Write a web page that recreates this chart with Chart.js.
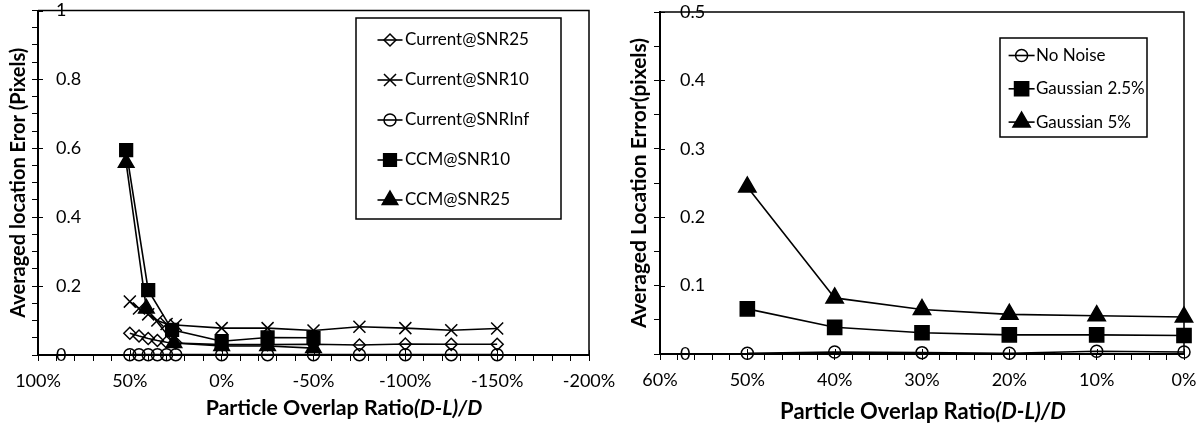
<!DOCTYPE html>
<html>
<head>
<meta charset="utf-8">
<script src="https://cdn.jsdelivr.net/npm/chart.js@4.4.0/dist/chart.umd.min.js"></script>
<style>
  html, body { margin: 0; padding: 0; background: #fff; }
  #wrap { position: relative; width: 1201px; height: 429px; overflow: hidden; }
  .pane { position: absolute; top: 0; }
</style>
</head>
<body>
<div id="wrap">
  <div class="pane" style="left:0;width:620px;height:429px"><canvas id="leftChart" width="620" height="429"></canvas></div>
  <div class="pane" style="left:600px;width:601px;height:429px"><canvas id="rightChart" width="601" height="429"></canvas></div>
</div>
<script>
// ---- Left chart data: overlap ratio (%) vs averaged location error (pixels)
const overlapCurrent = [50, 45, 40, 35, 30, 25, 0, -25, -50, -75, -100, -125, -150];
const currentSnr25 = [0.063, 0.055, 0.048, 0.042, 0.037, 0.035, 0.030, 0.030, 0.031, 0.029, 0.032, 0.031, 0.031];
const currentSnr10 = [0.155, 0.135, 0.118, 0.100, 0.090, 0.087, 0.078, 0.078, 0.071, 0.082, 0.078, 0.072, 0.077];
const currentSnrInf = [0.001, 0.001, 0.001, 0.001, 0.001, 0.001, 0.001, 0.001, 0.001, 0.001, 0.001, 0.001, 0.001];
const overlapCcm10 = [52, 40, 27, 0, -25, -50];
const ccmSnr10 = [0.595, 0.188, 0.073, 0.040, 0.051, 0.050];
const overlapCcm25 = [52, 41, 26, 0, -25, -50];
const ccmSnr25 = [0.558, 0.135, 0.035, 0.026, 0.026, 0.020];

// left axis labels
const leftXLabels = [100, 50, 0, -50, -100, -150, -200];
const leftYLabels = [0, 0.2, 0.4, 0.6, 0.8, 1];

// ---- Right chart data
const overlapRight = [50, 40, 30, 20, 10, 0];
const noNoise = [0.001, 0.003, 0.002, 0.001, 0.004, 0.003];
const gaussian25 = [0.066, 0.039, 0.031, 0.028, 0.028, 0.027];
const gaussian5 = [0.244, 0.082, 0.065, 0.058, 0.056, 0.054];

const rightXLabels = [60, 50, 40, 30, 20, 10, 0];
const rightYLabels = [0, 0.1, 0.2, 0.3, 0.4, 0.5];

const FONT = 'Lato';

function toPoints(xs, ys) {
    return xs.map((x, i) => ({ x: x, y: ys[i] }));
}

// tick positions: majors plus evenly spaced minors between them
function tickValues(from, to, step) {
    const vals = [];
    const n = Math.round(Math.abs(to - from) / step);
    const dir = to > from ? 1 : -1;
    for (let i = 0; i <= n; i++) {
        vals.push(+(from + dir * i * step).toFixed(4));
    }
    return vals;
}

function matchLabel(v, labels) {
    return labels.find(l => Math.abs(l - v) < 1e-6);
}

function lineDataset(label, points, style, radius, filled) {
    return {
        label: label,
        data: points,
        showLine: true,
        borderColor: '#000',
        borderWidth: 1.6,
        pointStyle: style,
        pointRadius: radius,
        pointHoverRadius: radius,
        pointBorderColor: '#000',
        pointBorderWidth: 1.5,
        pointBackgroundColor: filled ? '#000' : 'rgba(0,0,0,0)',
        clip: false
    };
}

/**
 * Frame: top/right border plus the inner half of major ticks
 */
const framePlugin = {
    id: 'frame',
    beforeDatasetsDraw(chart, args, opts) {
        const { ctx, chartArea: a, scales } = chart;
        ctx.save();
        ctx.strokeStyle = '#000';
        ctx.lineWidth = 1.5;
        ctx.beginPath();
        ctx.moveTo(a.left, a.top);
        ctx.lineTo(a.right, a.top);
        ctx.lineTo(a.right, a.bottom);
        ctx.stroke();
        ctx.lineWidth = 1;
        ctx.beginPath();
        opts.xMajor.forEach(v => {
            const px = Math.round(scales.x.getPixelForValue(v)) + 0.5;
            ctx.moveTo(px, a.bottom);
            ctx.lineTo(px, a.bottom - 5);
        });
        opts.yMajor.forEach(v => {
            const py = Math.round(scales.y.getPixelForValue(v)) + 0.5;
            ctx.moveTo(a.left, py);
            ctx.lineTo(a.left + 5, py);
        });
        ctx.stroke();
        ctx.restore();
    }
};

/**
 * Boxed legend inside the plot
 */
const boxLegendPlugin = {
    id: 'boxLegend',
    afterDraw(chart, args, opts) {
        const ctx = chart.ctx;
        ctx.save();
        ctx.strokeStyle = '#000';
        ctx.lineWidth = 1.5;
        ctx.fillStyle = '#fff';
        ctx.fillRect(opts.x, opts.y, opts.w, opts.h);
        ctx.strokeRect(opts.x, opts.y, opts.w, opts.h);
        ctx.font = opts.fontSize + 'px ' + FONT;
        ctx.textBaseline = 'middle';
        ctx.textAlign = 'left';
        chart.data.datasets.forEach((ds, i) => {
            const cy = opts.rowY + i * opts.rowGap;
            ctx.strokeStyle = '#000';
            ctx.lineWidth = 1.6;
            ctx.beginPath();
            ctx.moveTo(opts.markerX - opts.half, cy);
            ctx.lineTo(opts.markerX + opts.half, cy);
            ctx.stroke();
            ctx.fillStyle = ds.pointBackgroundColor;
            ctx.lineWidth = ds.pointBorderWidth;
            Chart.helpers.drawPoint(ctx, {
                pointStyle: ds.pointStyle,
                radius: ds.pointRadius,
                rotation: 0,
                borderWidth: ds.pointBorderWidth
            }, opts.markerX, cy);
            ctx.fillStyle = '#000';
            ctx.fillText(ds.label, opts.textX, cy);
        });
        ctx.restore();
    }
};

/**
 * X axis title with the italic ratio part
 */
const xTitlePlugin = {
    id: 'xTitle',
    afterDraw(chart, args, opts) {
        const ctx = chart.ctx;
        ctx.save();
        ctx.fillStyle = '#000';
        ctx.textBaseline = 'middle';
        ctx.textAlign = 'left';
        const plainFont = 'bold ' + opts.size + 'px ' + FONT;
        const italicFont = 'italic bold ' + opts.size + 'px ' + FONT;
        ctx.font = plainFont;
        const w1 = ctx.measureText(opts.plain).width;
        ctx.font = italicFont;
        const w2 = ctx.measureText(opts.italic).width;
        const x0 = opts.cx - (w1 + w2) / 2;
        ctx.font = plainFont;
        ctx.fillText(opts.plain, x0, opts.cy);
        ctx.font = italicFont;
        ctx.fillText(opts.italic, x0 + w1, opts.cy);
        ctx.restore();
    }
};

function axisOptions(cfg) {
    const tickFont = { family: FONT, size: 18 };
    return {
        x: {
            type: 'linear',
            min: cfg.xMin,
            max: cfg.xMax,
            reverse: true,
            afterBuildTicks: s => { s.ticks = cfg.xTicks.map(v => ({ value: v })); },
            afterFit: s => { s.paddingLeft = 0; s.paddingRight = 0; s.height = cfg.xHeight; },
            ticks: {
                autoSkip: false,
                maxRotation: 0,
                padding: 9,
                color: '#000',
                font: tickFont,
                callback: v => {
                    const m = matchLabel(v, cfg.xLabels);
                    return m === undefined ? '' : m + '%';
                }
            },
            grid: { drawOnChartArea: false, drawTicks: true, tickLength: 6, color: '#000', lineWidth: 1 },
            border: { color: '#000', width: 2 }
        },
        y: {
            type: 'linear',
            min: 0,
            max: cfg.yMax,
            afterBuildTicks: s => { s.ticks = cfg.yTicks.map(v => ({ value: v })); },
            afterFit: s => { s.paddingTop = 0; s.paddingBottom = 0; s.width = cfg.yWidth; },
            ticks: {
                autoSkip: false,
                mirror: true,
                padding: cfg.yLabelPad,
                color: '#000',
                font: tickFont,
                callback: v => {
                    const m = matchLabel(v, cfg.yLabels);
                    return m === undefined ? '' : String(m);
                }
            },
            grid: { drawOnChartArea: false, drawTicks: true, tickLength: 6, color: '#000', lineWidth: 1 },
            border: { color: '#000', width: 2 },
            title: {
                display: true,
                text: cfg.yTitle,
                color: '#000',
                font: { family: FONT, size: cfg.yTitleSize, weight: 'bold' },
                padding: { top: cfg.yTitlePadTop, bottom: 2 }
            }
        }
    };
}

function createLeftChart() {
    const ctx = document.getElementById('leftChart');
    new Chart(ctx, {
        type: 'scatter',
        data: {
            datasets: [
                lineDataset('Current@SNR25', toPoints(overlapCurrent, currentSnr25), 'rectRot', 6, false),
                lineDataset('Current@SNR10', toPoints(overlapCurrent, currentSnr10), 'crossRot', 8.5, false),
                lineDataset('Current@SNRInf', toPoints(overlapCurrent, currentSnrInf), 'circle', 6, false),
                lineDataset('CCM@SNR10', toPoints(overlapCcm10, ccmSnr10), 'rect', 9, true),
                lineDataset('CCM@SNR25', toPoints(overlapCcm25, ccmSnr25), 'triangle', 9, true)
            ]
        },
        options: {
            responsive: false,
            animation: false,
            layout: { padding: { left: 0, right: 31, top: 10, bottom: 37.4 } },
            scales: axisOptions({
                xMin: -200, xMax: 100,
                xTicks: tickValues(100, -200, 10),
                xLabels: leftXLabels,
                xHeight: 36.6,
                yMax: 1,
                yTicks: tickValues(0, 1, 0.05),
                yLabels: leftYLabels,
                yWidth: 38,
                yLabelPad: 18,
                yTitle: 'Averaged location Eror (Pixels)',
                yTitleSize: 20,
                yTitlePadTop: 7
            }),
            plugins: {
                legend: { display: false },
                tooltip: { enabled: false },
                frame: { xMajor: leftXLabels, yMajor: leftYLabels },
                boxLegend: { x: 356, y: 18, w: 205, h: 201, rowY: 40, rowGap: 40, markerX: 390, half: 12.5, textX: 405, fontSize: 17 },
                xTitle: { plain: 'Particle Overlap Ratio', italic: '(D-L)/D', size: 21.3, cx: 344, cy: 408 }
            }
        },
        plugins: [framePlugin, boxLegendPlugin, xTitlePlugin]
    });
}

function createRightChart() {
    const ctx = document.getElementById('rightChart');
    new Chart(ctx, {
        type: 'scatter',
        data: {
            datasets: [
                lineDataset('No Noise', toPoints(overlapRight, noNoise), 'circle', 6, false),
                lineDataset('Gaussian 2.5%', toPoints(overlapRight, gaussian25), 'rect', 10, true),
                lineDataset('Gaussian 5%', toPoints(overlapRight, gaussian5), 'triangle', 10, true)
            ]
        },
        options: {
            responsive: false,
            animation: false,
            layout: { padding: { left: 21, right: 17, top: 12, bottom: 38.4 } },
            scales: axisOptions({
                xMin: 0, xMax: 60,
                xTicks: tickValues(60, 0, 2),
                xLabels: rightXLabels,
                xHeight: 36.6,
                yMax: 0.5,
                yTicks: tickValues(0, 0.5, 0.05),
                yLabels: rightYLabels,
                yWidth: 39,
                yLabelPad: 20,
                yTitle: 'Averaged Location Error(pixels)',
                yTitleSize: 21,
                yTitlePadTop: 6
            }),
            plugins: {
                legend: { display: false },
                tooltip: { enabled: false },
                frame: { xMajor: rightXLabels, yMajor: rightYLabels },
                boxLegend: { x: 400, y: 38, w: 147, h: 99, rowY: 55.5, rowGap: 33.3, markerX: 421.6, half: 13, textX: 436, fontSize: 17 },
                xTitle: { plain: 'Particle Overlap Ratio', italic: '(D-L)/D', size: 22, cx: 323, cy: 412 }
            }
        },
        plugins: [framePlugin, boxLegendPlugin, xTitlePlugin]
    });
}

createLeftChart();
createRightChart();
</script>
</body>
</html>
